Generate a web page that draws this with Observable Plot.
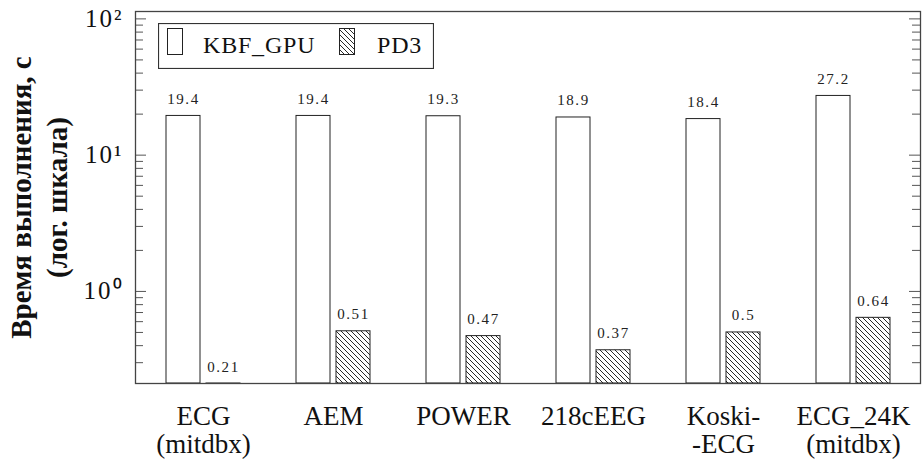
<!DOCTYPE html>
<html>
<head>
<meta charset="utf-8">
<script src="https://cdn.jsdelivr.net/npm/d3@7"></script>
<script src="https://cdn.jsdelivr.net/npm/@observablehq/plot@0.6"></script>
<style>
  body { margin: 0; background: #fff; }
  #chart { position: relative; width: 923px; height: 466px; }
  #chart text { font-family: "Liberation Serif", serif; }
  #legend { position: absolute; left: 158px; top: 23px; }
  .value-label text { letter-spacing: 1.6px; }
  g[aria-label="y-axis tick label"] text { letter-spacing: 2px; }
</style>
</head>
<body>
<div id="chart"></div>
<script>
// Datasets (x categories) and execution times in seconds for each method
const datasets = ["ECG\n(mitdbx)", "AEM", "POWER", "218cEEG", "Koski-\n-ECG", "ECG_24K\n(mitdbx)"];
const kbfGpu = [19.4, 19.4, 19.3, 18.9, 18.4, 27.2];
const pd3 = [0.21, 0.51, 0.47, 0.37, 0.5, 0.64];
const seriesNames = ["KBF_GPU", "PD3"];

// Log axis extent and ticks
const yDomain = [0.211, 113.3];
const majorTicks = [1, 10, 100];
const majorTickLabels = ["10⁰", "10¹", "10²"];
const minorTicks = [0.3, 0.4, 0.5, 0.6, 0.7, 0.8, 0.9, 2, 3, 4, 5, 6, 7, 8, 9, 20, 30, 40, 50, 60, 70, 80, 90];
const yLabel = "Время выполнения, с\n(лог. шкала)";

const rows = datasets.map((d, i) => ({dataset: d, kbf: kbfGpu[i], pd3: pd3[i]}));

const W = 923, H = 466;
const margin = {top: 11, right: 3, bottom: 83, left: 135};
const innerW = W - margin.left - margin.right;
const tickColor = "#555";

const chart = Plot.plot({
  width: W,
  height: H,
  marginTop: margin.top,
  marginRight: margin.right,
  marginBottom: margin.bottom,
  marginLeft: margin.left,
  style: {fontFamily: "'Liberation Serif', serif", background: "white", color: "#111"},
  x: {type: "band", domain: datasets, padding: 0},
  y: {type: "log", domain: yDomain},
  marks: [
    // bars: KBF_GPU left of the group centre, PD3 (hatched) right of it
    Plot.barY(rows, {x: "dataset", y1: yDomain[0], y2: "kbf", fill: "white", stroke: "#222", strokeWidth: 1, insetLeft: 28, insetRight: 68}),
    Plot.barY(rows, {x: "dataset", y1: yDomain[0], y2: "pd3", fill: "url(#hatch)", stroke: "#222", strokeWidth: 1, insetLeft: 68, insetRight: 28}),
    // value labels above the bars
    Plot.text(rows, {x: "dataset", y: "kbf", text: d => String(d.kbf), dx: -20, dy: -12, lineAnchor: "bottom", fontSize: 15, fill: "#222", className: "value-label"}),
    Plot.text(rows, {x: "dataset", y: "pd3", text: d => String(d.pd3), dx: 20, dy: -12, lineAnchor: "bottom", fontSize: 15, fill: "#222", className: "value-label"}),
    // inward ticks on the left and right edges
    Plot.ruleY(majorTicks, {stroke: tickColor, insetRight: innerW - 11}),
    Plot.ruleY(minorTicks, {stroke: tickColor, insetRight: innerW - 8}),
    Plot.ruleY(majorTicks, {stroke: tickColor, insetLeft: innerW - 11}),
    Plot.ruleY(minorTicks, {stroke: tickColor, insetLeft: innerW - 8}),
    Plot.frame({stroke: "#444", strokeWidth: 1.3}),
    Plot.axisX({tickSize: 0, tickPadding: 21, fontSize: 27, lineAnchor: "top", lineHeight: 1.05, label: null}),
    Plot.axisY({ticks: majorTicks, tickSize: 0, tickPadding: 12, fontSize: 25, label: null,
      tickFormat: d => majorTickLabels[majorTicks.indexOf(d)]}),
    Plot.text([yLabel], {text: d => d, frameAnchor: "left", textAnchor: "middle", lineAnchor: "middle", rotate: -90, dx: -98, fontSize: 29, fontWeight: "bold", lineHeight: 1.22})
  ]
});

// hatch pattern used by the PD3 bars
function addHatch(svgSel, id) {
  const p = svgSel.insert("defs", ":first-child").append("pattern")
    .attr("id", id).attr("patternUnits", "userSpaceOnUse")
    .attr("width", 5).attr("height", 5);
  p.append("rect").attr("width", 5).attr("height", 5).attr("fill", "white");
  p.append("path").attr("d", "M-1,-1L6,6M-1,4L1,6M4,-1L6,1")
    .attr("stroke", "#111").attr("stroke-width", 0.9);
}
addHatch(d3.select(chart), "hatch");

const container = document.getElementById("chart");
container.appendChild(chart);

// legend box
const lg = d3.create("svg").attr("id", "legend").attr("width", 276).attr("height", 46);
addHatch(lg, "hatch-legend");
lg.append("rect").attr("x", 0.5).attr("y", 0.5).attr("width", 275).attr("height", 45)
  .attr("fill", "white").attr("stroke", "#333").attr("stroke-width", 1.2);
const items = [
  {name: seriesNames[0], fill: "white", sx: 9.5, tx: 45},
  {name: seriesNames[1], fill: "url(#hatch-legend)", sx: 181.5, tx: 219}
];
const it = lg.selectAll("g").data(items).join("g");
it.append("rect").attr("x", d => d.sx).attr("y", 5.5).attr("width", 15).attr("height", 26)
  .attr("fill", d => d.fill).attr("stroke", "#222").attr("stroke-width", 1);
it.append("text").attr("x", d => d.tx).attr("y", 30).attr("font-size", 24).attr("fill", "#111")
  .style("letter-spacing", "0.8px").text(d => d.name);
container.appendChild(lg.node());
</script>
</body>
</html>
